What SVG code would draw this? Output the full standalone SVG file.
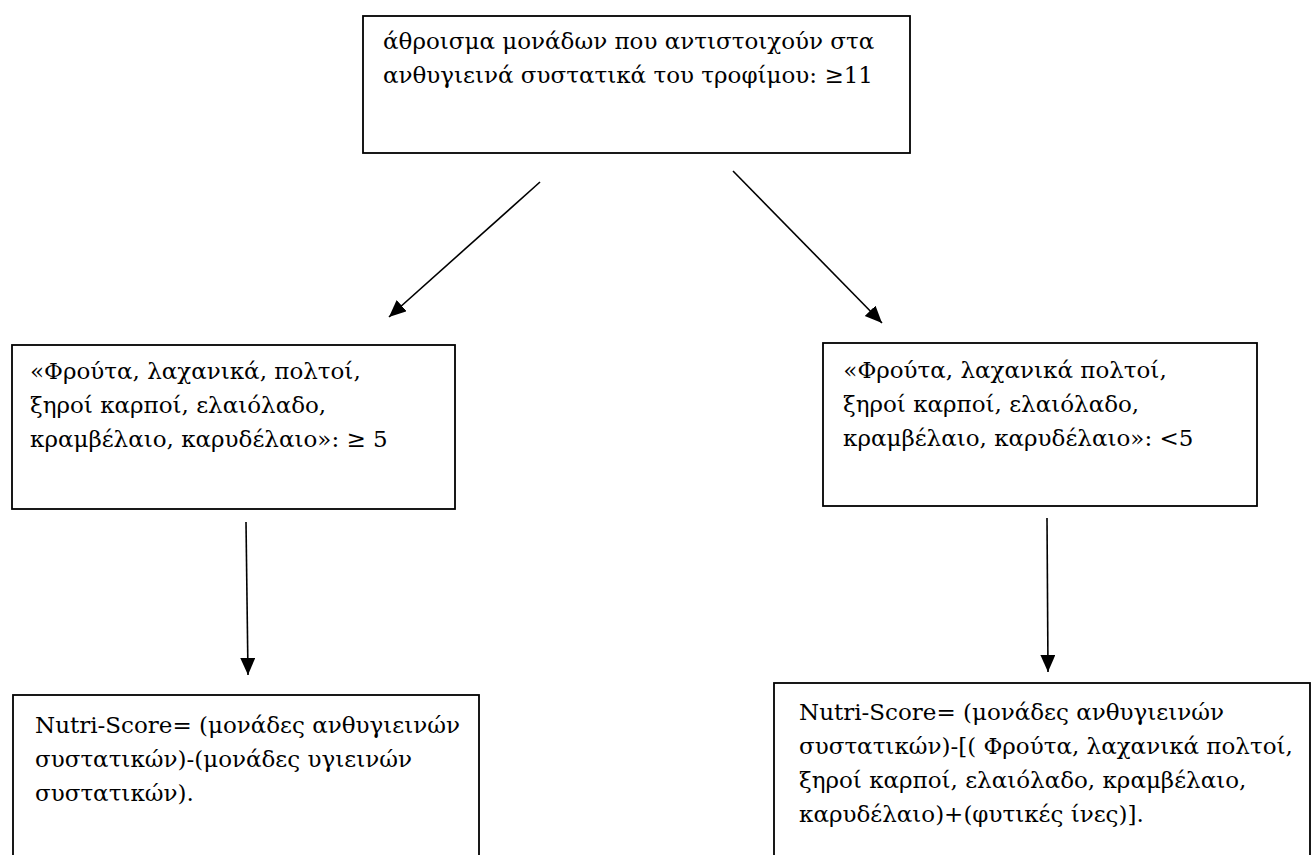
<svg xmlns="http://www.w3.org/2000/svg" width="1311" height="855" viewBox="0 0 1311 855">
<style>
.box{fill:#fff;stroke:#000;stroke-width:1.8}
.t{font-family:"DejaVu Serif","Liberation Serif",serif;font-size:23px;fill:#000}
.c{stroke:#000;stroke-width:1.6;fill:none}
</style>
<defs>
<marker id="ah" markerUnits="userSpaceOnUse" markerWidth="18" markerHeight="16" refX="17" refY="7.5" orient="auto">
<path d="M0,0 L17,7.5 L0,15 z" fill="#000"/>
</marker>
</defs>
<rect width="1311" height="855" fill="#fff"/>
<g id="top">
<rect class="box" x="363" y="16" width="547" height="137"/>
<text class="t" x="383" y="49">άθροισμα μονάδων που αντιστοιχούν στα</text>
<text class="t" x="383" y="83">ανθυγιεινά συστατικά του τροφίμου: ≥11</text>
</g>
<g id="left-mid">
<rect class="box" x="12" y="345" width="443" height="164"/>
<text class="t" x="30" y="379">«Φρούτα, λαχανικά, πολτοί,</text>
<text class="t" x="30" y="413">ξηροί καρποί, ελαιόλαδο,</text>
<text class="t" x="30" y="447">κραμβέλαιο, καρυδέλαιο»: ≥ 5</text>
</g>
<g id="right-mid">
<rect class="box" x="823" y="343" width="434" height="163"/>
<text class="t" x="836" y="378" xml:space="preserve"> «Φρούτα, λαχανικά πολτοί,</text>
<text class="t" x="843" y="412">ξηροί καρποί, ελαιόλαδο,</text>
<text class="t" x="843" y="446">κραμβέλαιο, καρυδέλαιο»: &lt;5</text>
</g>
<g id="left-bottom">
<rect class="box" x="13" y="695" width="466" height="180"/>
<text class="t" x="35" y="733">Nutri-Score= (μονάδες ανθυγιεινών</text>
<text class="t" x="35" y="767">συστατικών)-(μονάδες υγιεινών</text>
<text class="t" x="35" y="801">συστατικών).</text>
</g>
<g id="right-bottom">
<rect class="box" x="774" y="683" width="536" height="190"/>
<text class="t" x="799" y="720">Nutri-Score= (μονάδες ανθυγιεινών</text>
<text class="t" x="799" y="754">συστατικών)-[( Φρούτα, λαχανικά πολτοί,</text>
<text class="t" x="799" y="788">ξηροί καρποί, ελαιόλαδο, κραμβέλαιο,</text>
<text class="t" x="799" y="822">καρυδέλαιο)+(φυτικές ίνες)].</text>
</g>
<g id="connectors">
<line class="c" x1="540" y1="182" x2="389" y2="317" marker-end="url(#ah)"/>
<line class="c" x1="733" y1="171" x2="882" y2="323" marker-end="url(#ah)"/>
<line class="c" x1="246" y1="522" x2="248" y2="675" marker-end="url(#ah)"/>
<line class="c" x1="1047" y1="518" x2="1048" y2="672" marker-end="url(#ah)"/>
</g>
</svg>
